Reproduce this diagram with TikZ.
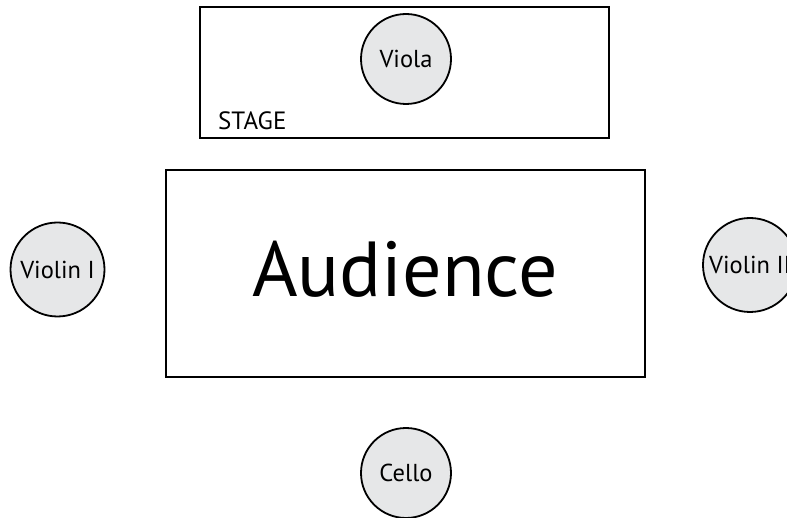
\documentclass[tikz,border=0pt]{standalone}
\usepackage{fontspec}
\setmainfont{PT Sans}
\definecolor{seatgrey}{HTML}{E6E7E8}
\begin{document}
\begin{tikzpicture}[x=1pt,y=-1pt,
  player/.style={circle,draw=black,line width=1.8pt,fill=seatgrey,inner sep=0pt,
    font=\fontsize{24.5}{26}\selectfont},
  zone/.style={draw=black,line width=1.5pt,inner sep=0pt}]
\useasboundingbox (0,0) rectangle (787,518);
\clip (0,0) rectangle (787,518);
\node[zone,minimum width=409pt,minimum height=131pt] (stage) at (404.5,72.5) {};
\node[anchor=base west,inner sep=0pt,font=\fontsize{25}{26}\selectfont] (stagelbl) at (218,130) {STAGE};
\node[player,minimum size=90pt] (viola) at (406,59) {Viola};
\node[zone,minimum width=479pt,minimum height=207pt] (aud) at (405.5,273.5) {};
\node[anchor=base,inner sep=0pt,font=\fontsize{78}{80}\selectfont] (audlbl) at (405,297) {Audience};
\node[player,minimum size=94pt] (v1) at (57.5,269.5) {Violin I};
\node[player,minimum size=94pt] (v2) at (750,265) {Violin II};
\node[player,minimum size=90pt] (cello) at (406,473) {Cello};
\end{tikzpicture}
\end{document}
